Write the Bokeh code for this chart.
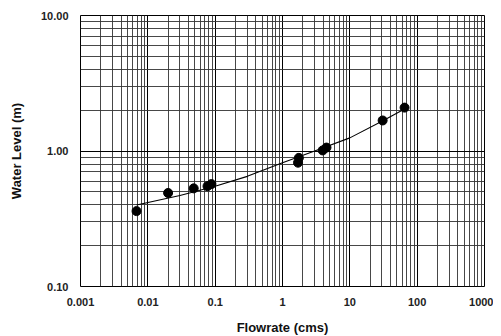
from bokeh.plotting import figure
from bokeh.models import FixedTicker, ColumnDataSource
from bokeh.embed import file_html
from bokeh.resources import INLINE

# observed data points
flow_obs = [0.0068, 0.02, 0.048, 0.077, 0.088, 1.7, 1.75, 3.95, 4.5, 30.7, 65]
level_obs = [0.36, 0.49, 0.53, 0.55, 0.57, 0.82, 0.89, 1.01, 1.06, 1.68, 2.09]

# fitted rating curve
flow_fit = [0.0068, 0.03, 0.1, 0.3, 1.0, 3.0, 10.0, 30.0, 67.0]
level_fit = [0.40, 0.47, 0.55, 0.65, 0.82, 1.00, 1.25, 1.66, 2.06]

x_ticks = [0.001, 0.01, 0.1, 1, 10, 100, 1000]
x_tick_labels = ["0.001", "0.01", "0.1", "1", "10", "100", "1000"]
y_ticks = [0.1, 1, 10]
y_tick_labels = ["0.10", "1.00", "10.00"]
minor_multipliers = [2, 3, 4, 5, 6, 7, 8, 9]

FONT = "Liberation Sans"

p = figure(frame_width=404, frame_height=271, x_axis_type="log", y_axis_type="log",
           x_range=(0.001, 1000), y_range=(0.1, 10),
           output_backend="svg", toolbar_location=None,
           min_border_left=80, min_border_right=9, min_border_top=15, min_border_bottom=47)

p.outline_line_color = "black"
p.outline_line_width = 1

for ax, ticks, labels in ((p.xaxis[0], x_ticks, x_tick_labels), (p.yaxis[0], y_ticks, y_tick_labels)):
    minors = [m * t for t in ticks[:-1] for m in minor_multipliers]
    ax.ticker = FixedTicker(ticks=ticks, minor_ticks=minors)
    ax.major_label_overrides = {t: l for t, l in zip(ticks, labels)}
    ax.axis_line_color = None
    ax.major_tick_line_color = None
    ax.minor_tick_line_color = None
    ax.major_label_text_font = FONT
    ax.major_label_text_font_size = "11px"
    ax.major_label_text_font_style = "bold"
    ax.major_label_text_color = "#222222"
    ax.axis_label_text_font = FONT
    ax.axis_label_text_font_size = "13px"
    ax.axis_label_text_font_style = "bold"
    ax.axis_label_text_color = "#111111"

p.xaxis.axis_label = "Flowrate (cms)"
p.yaxis.axis_label = "Water Level (m)"
p.xaxis.major_label_standoff = 5
p.xaxis.axis_label_standoff = 11
p.yaxis.major_label_standoff = 6
p.yaxis.axis_label_standoff = 14

for g in (p.xgrid[0], p.ygrid[0]):
    g.grid_line_color = "black"
    g.grid_line_width = 1
    g.grid_line_alpha = 1
    g.minor_grid_line_color = "#333333"
    g.minor_grid_line_width = 1
    g.minor_grid_line_alpha = 0.9

fit_src = ColumnDataSource(dict(x=flow_fit, y=level_fit))
obs_src = ColumnDataSource(dict(x=flow_obs, y=level_obs))
p.line("x", "y", source=fit_src, line_color="black", line_width=1.1)
p.scatter("x", "y", source=obs_src, size=9, fill_color="black", line_color="black")

open("out.html", "w").write(file_html(p, INLINE))
